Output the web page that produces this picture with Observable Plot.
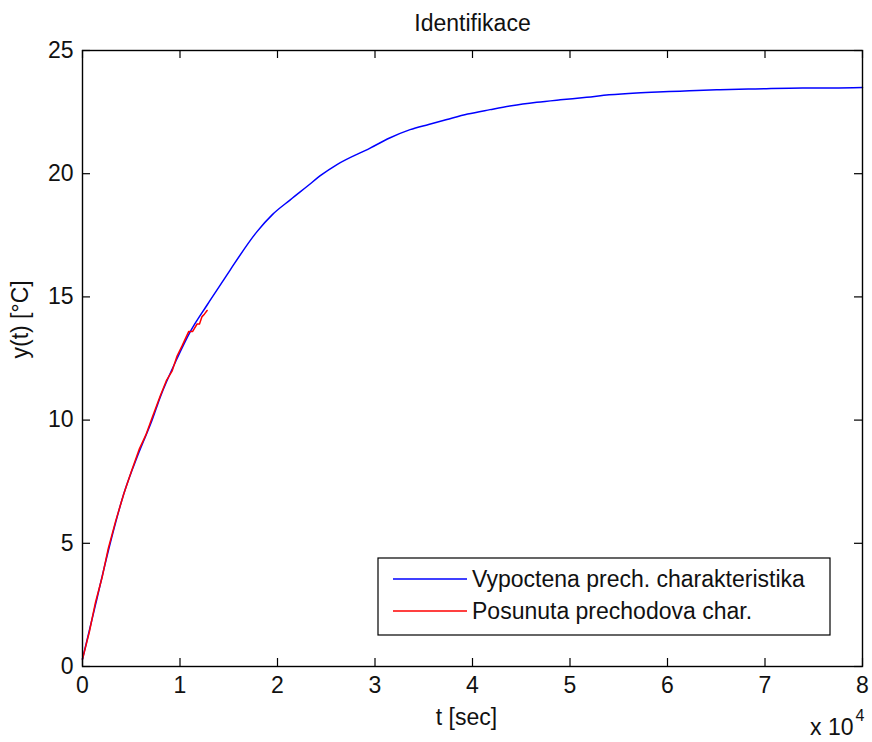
<!DOCTYPE html>
<html>
<head>
<meta charset="utf-8">
<script src="https://cdn.jsdelivr.net/npm/d3@7"></script>
<script src="https://cdn.jsdelivr.net/npm/@observablehq/plot@0.6"></script>
<style>
  html, body { margin: 0; padding: 0; background: white; }
</style>
</head>
<body>
<div id="chart"></div>
<script>
const titleText = "Identifikace";
const xLabel = "t [sec]";
const yLabel = "y(t) [°C]";
const seriesNames = ["Vypoctena prech. charakteristika", "Posunuta prechodova char."];
const seriesColors = ["#0000ff", "#ff0000"];
const xTicks = [0, 10000, 20000, 30000, 40000, 50000, 60000, 70000, 80000];
const yTicks = [0, 5, 10, 15, 20, 25];

// computed step response (blue)
const blueT = [0, 1330, 2650, 4230, 5700, 7140, 7990, 9700, 11070, 12780, 14480, 15160, 17900, 19500, 21310, 23020, 24500, 26100, 29500, 31500, 33600, 35500, 37370, 39500, 41800, 44000, 46590, 49000, 51710, 54000, 56830, 59000, 61270, 63000, 65370, 69000, 73870, 77000, 80000];
const blueY = [0.3, 2.5, 4.7, 7.0, 8.6, 10.0, 10.95, 12.5, 13.6, 14.67, 15.69, 16.1, 17.65, 18.35, 18.94, 19.48, 19.95, 20.37, 21.04, 21.45, 21.79, 22.0, 22.2, 22.42, 22.6, 22.76, 22.9, 23.0, 23.1, 23.2, 23.28, 23.32, 23.35, 23.38, 23.41, 23.44, 23.48, 23.48, 23.5];
// shifted measured response (red)
const redT = [0, 700, 1330, 2000, 2650, 3400, 4230, 5000, 5800, 6500, 7140, 7990, 8600, 9200, 9700, 10200, 10900, 11300, 11750, 12000, 12260, 12500, 12780];
const redY = [0.3, 1.4, 2.6, 3.6, 4.8, 5.9, 7.0, 7.9, 8.8, 9.4, 10.1, 11.0, 11.6, 12.0, 12.6, 13.0, 13.6, 13.6, 13.9, 13.9, 14.2, 14.3, 14.45];

const blue = blueT.map((t, i) => ({t, y: blueY[i]}));
const red = redT.map((t, i) => ({t, y: redY[i]}));

const FONT = "'Liberation Sans', Arial, Helvetica, sans-serif";
const FS = 23;

function legendMark(index, scales, values, dims) {
  const {width, height, marginRight, marginBottom} = dims;
  const right = width - marginRight - 32;
  const bottom = height - marginBottom - 31;
  const left = right - 452;
  const top = bottom - 77;
  const g = d3.create("svg:g");
  g.append("rect")
    .attr("x", left).attr("y", top)
    .attr("width", right - left).attr("height", bottom - top)
    .attr("fill", "white").attr("stroke", "black").attr("stroke-width", 1.2);
  seriesNames.forEach((name, i) => {
    const cy = top + 21 + i * 32;
    g.append("line")
      .attr("x1", left + 15).attr("x2", left + 89)
      .attr("y1", cy).attr("y2", cy)
      .attr("stroke", seriesColors[i]).attr("stroke-width", 1.5);
    g.append("text")
      .attr("x", left + 94).attr("y", cy)
      .attr("dy", "0.36em")
      .attr("text-anchor", "start")
      .attr("font-family", FONT).attr("font-size", FS)
      .attr("fill", "#111")
      .text(name);
  });
  return g.node();
}

const chart = Plot.plot({
  width: 872,
  height: 742,
  marginLeft: 82,
  marginRight: 10,
  marginTop: 50,
  marginBottom: 76,
  style: {fontFamily: FONT, fontSize: FS + "px", background: "white", color: "#111"},
  x: {domain: [0, 80000]},
  y: {domain: [0, 25]},
  marks: [
    Plot.axisX({ticks: xTicks, tickSize: 0, tickPadding: 10, tickFormat: d => d / 1e4, label: null, fontSize: FS}),
    Plot.axisY({ticks: yTicks, tickSize: 0, tickPadding: 9, label: null, fontSize: FS}),
    Plot.line(blue, {x: "t", y: "y", stroke: seriesColors[0], strokeWidth: 1.5, curve: "monotone-x"}),
    Plot.line(red, {x: "t", y: "y", stroke: seriesColors[1], strokeWidth: 1.5}),
    Plot.ruleX(xTicks, {insetTop: 608, stroke: "black", strokeWidth: 1.2}),
    Plot.ruleX(xTicks, {insetBottom: 608, stroke: "black", strokeWidth: 1.2}),
    Plot.ruleY(yTicks, {insetRight: 772, stroke: "black", strokeWidth: 1.2}),
    Plot.ruleY(yTicks, {insetLeft: 772, stroke: "black", strokeWidth: 1.2}),
    Plot.frame({stroke: "black", strokeWidth: 1.4}),
    legendMark,
    Plot.text([titleText], {frameAnchor: "top", dy: -27, lineAnchor: "middle", fontSize: FS, fill: "#111"}),
    Plot.text([xLabel], {frameAnchor: "bottom", dx: -6, dy: 51, lineAnchor: "middle", fontSize: FS, fill: "#111"}),
    Plot.text([yLabel], {frameAnchor: "left", dx: -62, rotate: -90, lineAnchor: "middle", fontSize: FS, fill: "#111"}),
    Plot.text(["x 10"], {frameAnchor: "bottom-right", dx: -9, dy: 61, textAnchor: "end", lineAnchor: "middle", fontSize: FS, fill: "#111"}),
    Plot.text(["4"], {frameAnchor: "bottom-right", dx: -7, dy: 49, textAnchor: "start", lineAnchor: "middle", fontSize: 16, fill: "#111"})
  ]
});
document.getElementById("chart").appendChild(chart);
</script>
</body>
</html>
